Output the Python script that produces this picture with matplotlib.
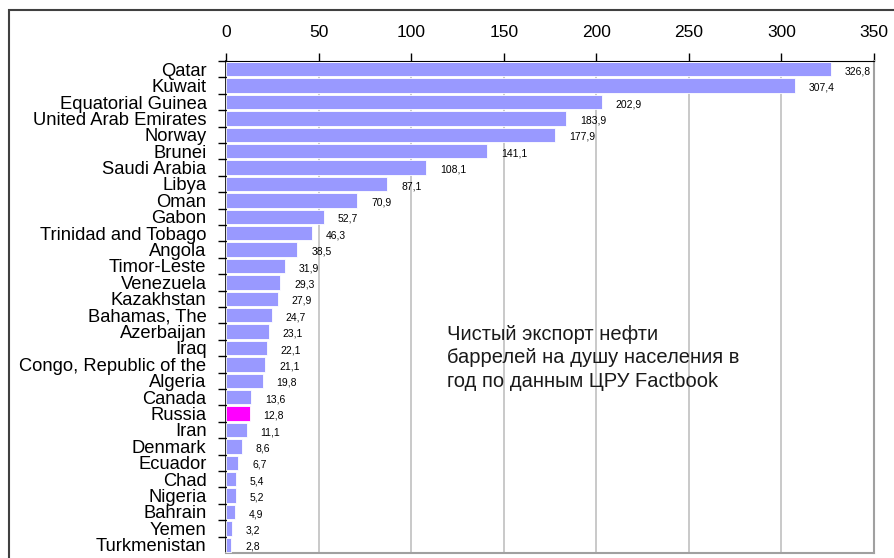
import matplotlib.pyplot as plt
from matplotlib.patches import Rectangle

plt.rcParams['font.family'] = ['Liberation Sans', 'DejaVu Sans']

# чистый экспорт нефти, баррелей на душу населения в год
countries = ['Qatar', 'Kuwait', 'Equatorial Guinea', 'United Arab Emirates', 'Norway',
             'Brunei', 'Saudi Arabia', 'Libya', 'Oman', 'Gabon',
             'Trinidad and Tobago', 'Angola', 'Timor-Leste', 'Venezuela', 'Kazakhstan',
             'Bahamas, The', 'Azerbaijan', 'Iraq', 'Congo, Republic of the', 'Algeria',
             'Canada', 'Russia', 'Iran', 'Denmark', 'Ecuador',
             'Chad', 'Nigeria', 'Bahrain', 'Yemen', 'Turkmenistan']
values = [326.8, 307.4, 202.9, 183.9, 177.9,
          141.1, 108.1, 87.1, 70.9, 52.7,
          46.3, 38.5, 31.9, 29.3, 27.9,
          24.7, 23.1, 22.1, 21.1, 19.8,
          13.6, 12.8, 11.1, 8.6, 6.7,
          5.4, 5.2, 4.9, 3.2, 2.8]
xticks = [0, 50, 100, 150, 200, 250, 300, 350]

fig = plt.figure(figsize=(8.95, 5.58), dpi=100)
# рамка вокруг всей диаграммы
fig.patches.append(Rectangle((9 / 895, -0.05), 1.0, 1 - 10 / 558 + 0.05,
                             transform=fig.transFigure, fill=False,
                             edgecolor='#404040', linewidth=1.5))

ax = fig.add_axes([226 / 895, 1 - 553 / 558, (874 - 226) / 895, (553 - 61) / 558])

colors = ['#ff00ff' if c == 'Russia' else '#9999ff' for c in countries]
ypos = list(range(len(countries)))
ax.barh(ypos, values, height=0.88, color=colors, edgecolor='white', linewidth=0.6, zorder=3)

for y, v in zip(ypos, values):
    ax.annotate(f'{v:.1f}'.replace('.', ','), xy=(v, y), xytext=(10, -1.5),
                textcoords='offset points', va='center', ha='left',
                fontsize=7.5, color='black', zorder=4)

ax.set_xlim(0, 350)
ax.set_ylim(len(countries) - 0.5, -0.5)
ax.set_yticks(ypos)
ax.set_yticklabels(countries, fontsize=13.2)
ax.set_yticks([y + 0.5 for y in ypos[:-1]] + [-0.5], minor=True)
ax.tick_params(axis='y', which='major', length=0, pad=14)
ax.tick_params(axis='y', which='minor', length=6, width=1, color='black', direction='out')

ax.xaxis.tick_top()
ax.set_xticks(xticks)
ax.set_xticklabels([str(t) for t in xticks], fontsize=12.5)
ax.tick_params(axis='x', length=6, width=1, color='black', direction='out', pad=9)

ax.grid(axis='x', color='#c0c0c0', linewidth=1.2, zorder=0)
ax.set_axisbelow(True)

ax.spines['top'].set_color('black')
ax.spines['left'].set_color('black')
ax.spines['left'].set_linewidth(1.2)
ax.spines['right'].set_color('#a0a0a0')
ax.spines['bottom'].set_color('#a0a0a0')
ax.spines['right'].set_linewidth(1.5)
ax.spines['bottom'].set_linewidth(1.5)

ax.text(0.341, 0.464, 'Чистый экспорт нефти\nбаррелей на душу населения в\nгод по данным ЦРУ Factbook',
        transform=ax.transAxes, fontsize=14.5, linespacing=1.3, va='top', ha='left',
        color='#1a1a1a', zorder=5)

fig.savefig('out.png', dpi=100)
